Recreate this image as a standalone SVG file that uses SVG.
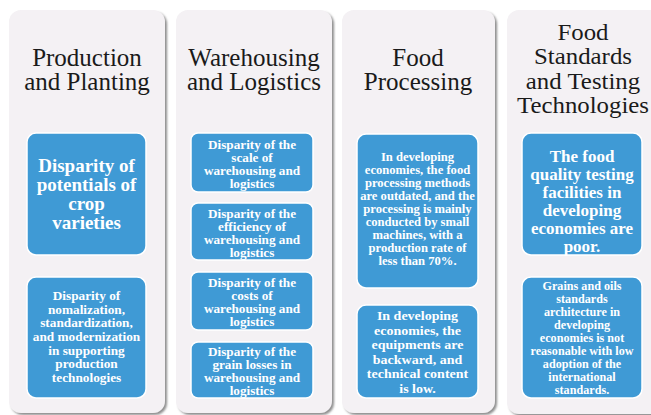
<svg xmlns="http://www.w3.org/2000/svg" width="651" height="415" viewBox="0 0 651 415">
<defs>
<filter id="sh" x="-10%" y="-10%" width="130%" height="130%">
<feGaussianBlur in="SourceAlpha" stdDeviation="1.2"/>
<feOffset dx="2" dy="1.5" result="b"/>
<feFlood flood-color="#6a6a6a" flood-opacity="0.75"/>
<feComposite in2="b" operator="in"/>
<feMerge><feMergeNode/><feMergeNode in="SourceGraphic"/></feMerge>
</filter>
</defs>
<style>
.panel{fill:#f4f1f4;filter:url(#sh)}
.box{fill:#3f9ad5;stroke:#ffffff;stroke-width:1.5}
.title{font-family:"Liberation Serif","Times New Roman",serif;font-size:25px;fill:#1a1a1a;text-anchor:middle}
.t{font-family:"Liberation Serif","Times New Roman",serif;font-weight:bold;fill:#ffffff;text-anchor:middle}
</style>
<rect width="651" height="415" fill="#ffffff"/>

<g id="panel1">
<rect class="panel" x="9" y="10" width="156" height="403" rx="12"/>
<text class="title" x="87"><tspan x="87" y="65.5">Production</tspan><tspan x="87" y="90">and Planting</tspan></text>
</g>
<g id="panel2">
<rect class="panel" x="176" y="10" width="156" height="403" rx="12"/>
<text class="title" x="254"><tspan x="254" y="65.5">Warehousing</tspan><tspan x="254" y="90">and Logistics</tspan></text>
</g>
<g id="panel3">
<rect class="panel" x="342" y="10" width="153" height="403" rx="12"/>
<text class="title" x="418"><tspan x="418" y="65.5">Food</tspan><tspan x="418" y="90">Processing</tspan></text>
</g>
<g id="panel4">
<rect class="panel" x="507" y="10" width="165" height="404" rx="12"/>
<text class="title" style="font-size:23px" transform="translate(583 0) scale(1.08 1)"><tspan x="0" y="40">Food</tspan><tspan x="0" y="64.3">Standards</tspan><tspan x="0" y="88.6">and Testing</tspan><tspan x="0" y="113">Technologies</tspan></text>
</g>

<g id="box1a">
<rect class="box" x="27" y="133" width="119" height="122" rx="9"/>
<text class="t" font-size="19"><tspan x="86.5" y="172">Disparity of</tspan><tspan x="86.5" y="191">potentials of</tspan><tspan x="86.5" y="210">crop</tspan><tspan x="86.5" y="229">varieties</tspan></text>
</g>
<g id="box1b">
<rect class="box" x="27" y="277" width="119" height="121" rx="9"/>
<text class="t" font-size="12.2" transform="translate(86.5 0) scale(1.09 1)"><tspan x="0" y="300">Disparity of</tspan><tspan x="0" y="313.7">nomalization,</tspan><tspan x="0" y="327.4">standardization,</tspan><tspan x="0" y="341.1">and modernization</tspan><tspan x="0" y="354.8">in supporting</tspan><tspan x="0" y="368.5">production</tspan><tspan x="0" y="382.2">technologies</tspan></text>
</g>

<g id="box2a">
<rect class="box" x="191" y="133" width="122" height="59" rx="7"/>
<text class="t" font-size="11.8" transform="translate(252 0) scale(1.12 1)"><tspan x="0" y="149">Disparity of the</tspan><tspan x="0" y="162">scale of</tspan><tspan x="0" y="175">warehousing and</tspan><tspan x="0" y="188">logistics</tspan></text>
</g>
<g id="box2b">
<rect class="box" x="191" y="203" width="122" height="57" rx="7"/>
<text class="t" font-size="11.8" transform="translate(252 0) scale(1.12 1)"><tspan x="0" y="218">Disparity of the</tspan><tspan x="0" y="231">efficiency of</tspan><tspan x="0" y="244">warehousing and</tspan><tspan x="0" y="257">logistics</tspan></text>
</g>
<g id="box2c">
<rect class="box" x="191" y="272" width="122" height="58" rx="7"/>
<text class="t" font-size="11.8" transform="translate(252 0) scale(1.12 1)"><tspan x="0" y="287.5">Disparity of the</tspan><tspan x="0" y="300.5">costs of</tspan><tspan x="0" y="313.5">warehousing and</tspan><tspan x="0" y="326.5">logistics</tspan></text>
</g>
<g id="box2d">
<rect class="box" x="191" y="342" width="122" height="56" rx="7"/>
<text class="t" font-size="11.8" transform="translate(252 0) scale(1.12 1)"><tspan x="0" y="356.5">Disparity of the</tspan><tspan x="0" y="369.5">grain losses in</tspan><tspan x="0" y="382.5">warehousing and</tspan><tspan x="0" y="395.5">logistics</tspan></text>
</g>

<g id="box3a">
<rect class="box" x="357" y="134" width="121" height="154" rx="9"/>
<text class="t" font-size="11.8" transform="translate(417.5 0) scale(1.07 1)"><tspan x="0" y="161">In developing</tspan><tspan x="0" y="174">economies, the food</tspan><tspan x="0" y="187">processing methods</tspan><tspan x="0" y="200">are outdated, and the</tspan><tspan x="0" y="213">processing is mainly</tspan><tspan x="0" y="226">conducted by small</tspan><tspan x="0" y="239">machines, with a</tspan><tspan x="0" y="252">production rate of</tspan><tspan x="0" y="265">less than 70%.</tspan></text>
</g>
<g id="box3b">
<rect class="box" x="357" y="305" width="121" height="93" rx="9"/>
<text class="t" font-size="13.2" transform="translate(417.5 0) scale(1.06 1)"><tspan x="0" y="320">In developing</tspan><tspan x="0" y="334.6">economies, the</tspan><tspan x="0" y="349.2">equipments are</tspan><tspan x="0" y="363.8">backward, and</tspan><tspan x="0" y="378.4">technical content</tspan><tspan x="0" y="393">is low.</tspan></text>
</g>

<g id="box4a">
<rect class="box" x="522" y="133" width="120" height="122" rx="9"/>
<text class="t" font-size="17"><tspan x="582" y="162">The food</tspan><tspan x="582" y="180">quality testing</tspan><tspan x="582" y="198">facilities in</tspan><tspan x="582" y="216">developing</tspan><tspan x="582" y="234">economies are</tspan><tspan x="582" y="252">poor.</tspan></text>
</g>
<g id="box4b">
<rect class="box" x="522" y="277" width="120" height="121" rx="9"/>
<text class="t" font-size="11.8" transform="translate(582 0) scale(1.03 1)"><tspan x="0" y="290">Grains and oils</tspan><tspan x="0" y="303">standards</tspan><tspan x="0" y="316">architecture in</tspan><tspan x="0" y="329">developing</tspan><tspan x="0" y="342">economies is not</tspan><tspan x="0" y="355">reasonable with low</tspan><tspan x="0" y="368">adoption of the</tspan><tspan x="0" y="381">international</tspan><tspan x="0" y="394">standards.</tspan></text>
</g>
<g id="connectors"></g>
</svg>
